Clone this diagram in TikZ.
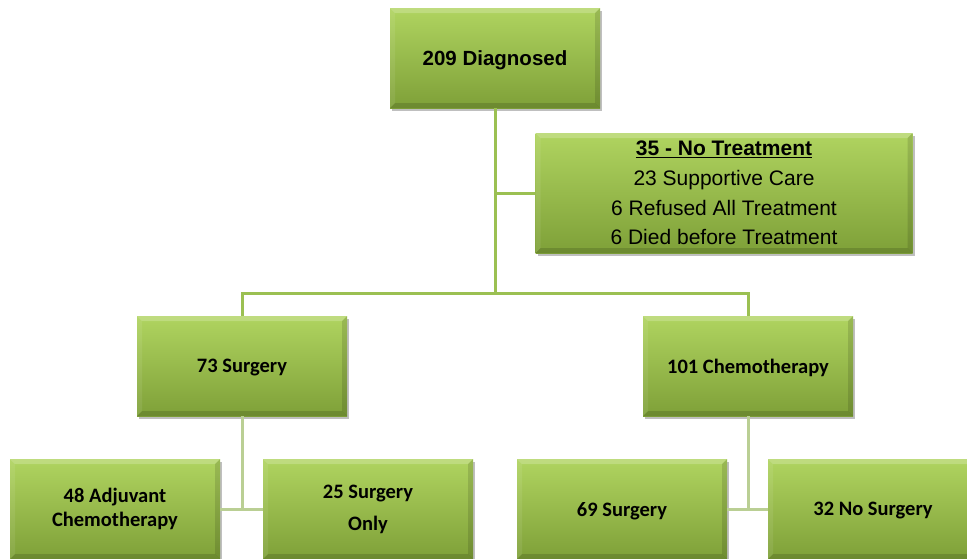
\documentclass[tikz,border=0pt]{standalone}
\usepackage{fontspec}
\setmainfont{Carlito}
\newfontfamily\arialf{Liberation Sans}
\usetikzlibrary{shadows}
\definecolor{gtop}{RGB}{176,212,96}
\definecolor{gbot}{RGB}{126,160,56}
\definecolor{conn}{RGB}{155,192,82}
\definecolor{connpale}{RGB}{186,207,148}
\tikzset{
  gbox/.style={rectangle, minimum width=210pt, minimum height=100pt, inner sep=0pt,
    top color=gtop, bottom color=gbot, draw=none, align=center,
    drop shadow={shadow xshift=2pt, shadow yshift=-3pt, opacity=0.25, fill=black},
    path picture={
      \fill[white,opacity=0.2] (path picture bounding box.north west) -- (path picture bounding box.north east)
        -- ([xshift=-5pt,yshift=-5pt]path picture bounding box.north east) -- ([xshift=5pt,yshift=-5pt]path picture bounding box.north west) -- cycle;
      \fill[white,opacity=0.08] (path picture bounding box.north west) -- ([xshift=5pt,yshift=-5pt]path picture bounding box.north west)
        -- ([xshift=5pt,yshift=5pt]path picture bounding box.south west) -- (path picture bounding box.south west) -- cycle;
      \fill[black,opacity=0.12] (path picture bounding box.north east) -- ([xshift=-5pt,yshift=-5pt]path picture bounding box.north east)
        -- ([xshift=-5pt,yshift=5pt]path picture bounding box.south east) -- (path picture bounding box.south east) -- cycle;
      \fill[black,opacity=0.14] (path picture bounding box.south west) -- ([xshift=5pt,yshift=5pt]path picture bounding box.south west)
        -- ([xshift=-5pt,yshift=5pt]path picture bounding box.south east) -- (path picture bounding box.south east) -- cycle;
    }},
  btext/.style={font=\fontsize{20.5}{24}\selectfont\bfseries},
  oneline/.style={text depth=0pt},
  conline/.style={draw=conn, line width=3pt},
  conpale/.style={draw=connpale, line width=3pt}
}
\begin{document}
\begin{tikzpicture}[x=1pt,y=-1pt]
\useasboundingbox (0,0) rectangle (967,558);
\coordinate (j1) at (495,293);
% nodes
\node[gbox, oneline, font=\arialf\fontsize{20.5}{24}\selectfont\bfseries] (diag) at (495,58) {209 Diagnosed};
\node[gbox, minimum width=377pt, minimum height=120pt, font=\arialf\fontsize{21}{29.7}\selectfont] (notreat) at (724,193)
  {\textbf{\underline{35 - No Treatment}}\\23 Supportive Care\\6 Refused All Treatment\\6 Died before Treatment};
\node[gbox, btext, oneline] (surg) at (242,366) {73 Surgery};
\node[gbox, btext, oneline] (chemo) at (748,366) {101 Chemotherapy};
\node[gbox, btext, font=\fontsize{20.5}{24}\selectfont\bfseries] (adj) at (115,509) {48 Adjuvant\\Chemotherapy};
\node[gbox, btext, font=\fontsize{20.5}{32}\selectfont\bfseries] (only) at (368,509) {25 Surgery\\Only};
\node[gbox, btext, oneline] (s69) at (622,509) {69 Surgery};
\node[gbox, btext, oneline] (ns32) at (873,509) {32 No Surgery};
% connectors
\draw[conline] (diag.south) -- (j1);
\draw[conline] (diag.south |- notreat.west) -- (notreat.west);
\draw[conline] (surg.north) -- (surg.north |- j1) -- (chemo.north |- j1) -- (chemo.north);
\draw[conpale] (surg.south) -- (surg.south |- adj.east);
\draw[conpale] (adj.east) -- (only.west);
\draw[conpale] (chemo.south) -- (chemo.south |- s69.east);
\draw[conpale] (s69.east) -- (ns32.west);
\end{tikzpicture}
\end{document}
